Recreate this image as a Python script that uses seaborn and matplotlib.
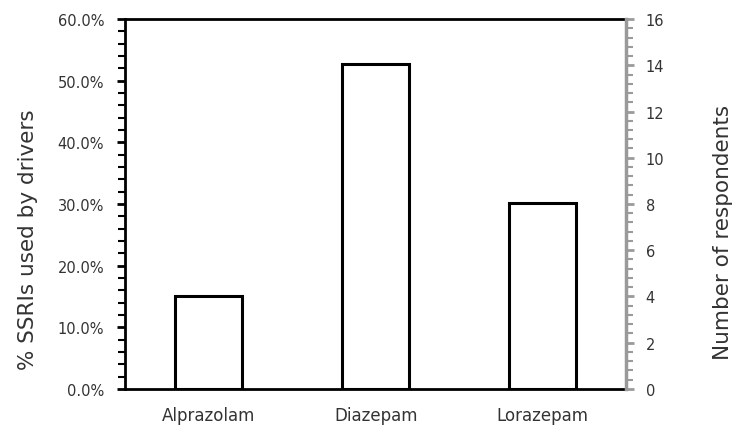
import matplotlib
matplotlib.use("Agg")
import matplotlib.pyplot as plt
from matplotlib.ticker import MultipleLocator, PercentFormatter
import seaborn as sns
import pandas as pd

# Data
drugs = ["Alprazolam", "Diazepam", "Lorazepam"]
pct_used = [15.0, 52.7, 30.1]

df = pd.DataFrame({"drug": drugs, "pct": pct_used})

sns.set_style("white")
plt.rcParams['font.family'] = ['DejaVu Sans']

fig = plt.figure(figsize=(7.36, 4.27), dpi=100)
ax = fig.add_axes([0.170, 0.087, 0.681, 0.866])

sns.barplot(data=df, x="drug", y="pct", ax=ax, width=0.4,
            color="white", edgecolor="black", linewidth=2.2)

ax.set_xlim(-0.5, 2.5)
ax.set_ylim(0, 60)
ax.yaxis.set_major_locator(MultipleLocator(10))
ax.yaxis.set_minor_locator(MultipleLocator(2))
ax.yaxis.set_major_formatter(PercentFormatter(decimals=1))

# category ticks between bars, labels centred
ax.set_xticks([0, 1, 2])
ax.set_xticks([-0.5, 0.5, 1.5, 2.5], minor=True)
ax.tick_params(axis="x", which="major", length=0, pad=12, labelsize=12, colors="#333333")
ax.tick_params(axis="x", which="minor", length=6, width=2, direction="out", color="black")
ax.tick_params(axis="y", which="major", length=6, width=2, direction="out", labelsize=10.5,
               labelcolor="#333333", pad=9)
ax.tick_params(axis="y", which="minor", length=5, width=1.5, direction="out", left=True)
ax.tick_params(axis="y", which="both", color="black")

for s in ["left", "bottom", "top"]:
    ax.spines[s].set_visible(True)
    ax.spines[s].set_color("black")
    ax.spines[s].set_linewidth(2)
ax.spines["right"].set_visible(False)

ax.set_xlabel("")
ax.set_ylabel("% SSRIs used by drivers", fontsize=15.5, color="#333333", labelpad=14)
ax.yaxis.label.set_y(0.405)

# secondary axis
ax2 = ax.twinx()
ax2.set_ylim(0, 16)
ax2.yaxis.set_major_locator(MultipleLocator(2))
ax2.yaxis.set_minor_locator(MultipleLocator(0.4))
ax2.tick_params(axis="y", which="major", length=6, width=2, direction="out",
                color="#9a9a9a", labelsize=10.5, labelcolor="#333333", pad=8)
ax2.tick_params(axis="y", which="minor", length=5, width=1.5, direction="out",
                color="#9a9a9a", right=True)
for s in ["left", "bottom", "top"]:
    ax2.spines[s].set_visible(False)
ax2.spines["right"].set_visible(True)
ax2.spines["right"].set_color("#9a9a9a")
ax2.spines["right"].set_linewidth(2.5)
ax2.set_ylabel("Number of respondents", fontsize=15.5, color="#333333", labelpad=35)
ax2.yaxis.label.set_y(0.427)

fig.savefig("out.png", dpi=100)
